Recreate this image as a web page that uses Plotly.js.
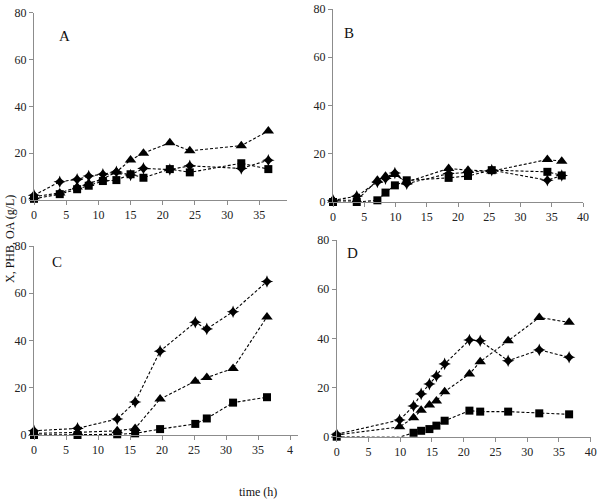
<!DOCTYPE html>
<html>
<head>
<meta charset="utf-8">
<script src="https://cdn.plot.ly/plotly-3.0.1.min.js"></script>
<style>html,body{margin:0;padding:0;background:#fff;}#chart{width:599px;height:502px;}</style>
</head>
<body>
<div id="chart"></div>
<script>
// Panel A
const A_t   = [0, 4, 6.7, 8.5, 10.7, 12.8, 15, 17, 21.1, 24.2, 32.2, 36.4];
const A_dia = [2, 7.8, 8.8, 10.2, 11, 12, 10.7, 13.5, 13, 14.6, 13.5, 17];
const A_sq  = [0.5, 2.5, 4.6, 6.1, 8.1, 8.5, 11, 9.5, 13.2, 11.8, 15.7, 13.2];
const A_tri = [1.4, 3, 5.5, 7, 9, 12, 17.1, 20, 24.5, 21, 23.2, 29.5];
// Panel B
const B_t   = [0, 3.8, 7.1, 8.4, 9.9, 11.8, 18.5, 21.6, 25.4, 34.3, 36.6];
const B_dia = [0.7, 2.4, 8.3, 9.7, 12, 7.6, 11.8, 12.2, 13.2, 9, 11];
const B_sq  = [0, 0, 0.7, 3.9, 6.9, 9, 10, 10.8, 13.2, 12.5, 11];
const B_tri = [0.7, 0.7, 9, 10.7, 11.4, 8.3, 13.9, 13.2, 12.8, 17.6, 16.9];
// Panel C
const C_t   = [0, 6.8, 13, 15.8, 19.7, 25.2, 27, 31.1, 36.4];
const C_dia = [1.8, 2.8, 6.8, 14, 35.5, 47.7, 44.9, 52.2, 65];
const C_sq  = [0, 0, 0.3, 0.7, 2.5, 4.7, 7, 13.7, 16];
const C_tri = [0.7, 1.1, 1.8, 2.8, 15.2, 22.8, 24.3, 28.2, 50];
// Panel D
const D_t   = [0, 9.9, 12.1, 13.3, 14.6, 15.7, 17, 20.9, 22.6, 27, 31.9, 36.6];
const D_dia = [1, 6.8, 12.5, 17.4, 21.4, 24.7, 29.6, 39.3, 39, 30.9, 35.3, 32.3];
const D_sq  = [0, -0.2, 1.6, 2.4, 3.1, 4.5, 6.5, 10.6, 10.2, 10.2, 9.5, 9.1];
const D_tri = [0.7, 4, 7.7, 10.8, 12.9, 14.5, 18.3, 25.5, 30.5, 39, 48.5, 46.5];

const xTickVals = [0, 5, 10, 15, 20, 25, 30, 35, 40];
const xTickTextC = ['0', '5', '10', '15', '20', '25', '30', '35', '4'];
const yTickVals = [0, 20, 40, 60, 80];

const panels = [
  {t: A_t, dia: A_dia, sq: A_sq, tri: A_tri, xa: 'x',  ya: 'y'},
  {t: B_t, dia: B_dia, sq: B_sq, tri: B_tri, xa: 'x2', ya: 'y2'},
  {t: C_t, dia: C_dia, sq: C_sq, tri: C_tri, xa: 'x3', ya: 'y3'},
  {t: D_t, dia: D_dia, sq: D_sq, tri: D_tri, xa: 'x4', ya: 'y4'}
];

const W = 599, H = 502;
const dash = '3px,2px';
const traces = [];
panels.forEach(p => {
  const common = {x: p.t, xaxis: p.xa, yaxis: p.ya, mode: 'lines+markers', cliponaxis: false,
                  showlegend: false, line: {color: '#000', width: 1.1, dash: dash}};
  traces.push(Object.assign({}, common, {y: p.dia, marker: {symbol: 'star-diamond', size: 9, color: '#000'}}));
  traces.push(Object.assign({}, common, {y: p.sq, marker: {symbol: 'square', size: 8, color: '#000'}}));
  traces.push(Object.assign({}, common, {y: p.tri, marker: {symbol: 'triangle-up', size: 10, color: '#000'}}));
});

function xax(x0px, x1px, range, ticktext, anchor) {
  const a = {domain: [x0px / W, x1px / W], range: range, anchor: anchor,
    tickvals: xTickVals, showline: true, linecolor: '#8c8c8c', linewidth: 1,
    ticks: 'outside', ticklen: 4, tickcolor: '#8c8c8c', showgrid: false, zeroline: false,
    tickfont: {family: 'Liberation Serif', size: 12, color: '#222'}};
  if (ticktext) a.ticktext = ticktext;
  return a;
}
function yax(y0px, y1px, anchor) {
  return {domain: [(H - y0px) / H, (H - y1px) / H], range: [0, 80], anchor: anchor,
    tickvals: yTickVals, showline: true, linecolor: '#8c8c8c', linewidth: 1,
    ticks: 'outside', ticklen: 4, tickcolor: '#8c8c8c', showgrid: false, zeroline: false,
    tickfont: {family: 'Liberation Serif', size: 12, color: '#222'}};
}

const letterFont = {family: 'Liberation Serif', size: 15, color: '#111'};
const layout = {
  width: W, height: H,
  margin: {l: 0, r: 0, t: 0, b: 0},
  paper_bgcolor: '#fff', plot_bgcolor: '#fff',
  xaxis:  xax(34, 287, [0, 39.3], null, 'y'),
  yaxis:  yax(200, 12.7, 'x'),
  xaxis2: xax(333, 583, [0, 40], null, 'y2'),
  yaxis2: yax(202, 9, 'x2'),
  xaxis3: xax(34, 297.7, [0, 41.2], xTickTextC, 'y3'),
  yaxis3: yax(435, 246, 'x3'),
  xaxis4: xax(336.7, 590.7, [0, 40], null, 'y4'),
  yaxis4: yax(436.7, 240, 'x4'),
  annotations: [
    {text: 'A', xref: 'paper', yref: 'paper', x: 57 / W, y: (H - 26) / H, showarrow: false, font: letterFont},
    {text: 'B', xref: 'paper', yref: 'paper', x: 349 / W, y: (H - 23) / H, showarrow: false, font: letterFont},
    {text: 'C', xref: 'paper', yref: 'paper', x: 50 / W, y: (H - 262) / H, showarrow: false, font: letterFont},
    {text: 'D', xref: 'paper', yref: 'paper', x: 352 / W, y: (H - 253) / H, showarrow: false, font: letterFont},
    {text: 'X, PHB, OA (g/L)', xref: 'paper', yref: 'paper', x: 1 / W, y: (H - 239) / H,
     xanchor: 'left', yanchor: 'middle', textangle: -90, showarrow: false,
     font: {family: 'Liberation Serif', size: 12, color: '#111'}},
    {text: 'time (h)', xref: 'paper', yref: 'paper', x: 258 / W, y: 1 / H,
     xanchor: 'center', yanchor: 'bottom', showarrow: false,
     font: {family: 'Liberation Serif', size: 12, color: '#111'}}
  ]
};

Plotly.newPlot('chart', traces, layout, {displayModeBar: false, staticPlot: true});
</script>
</body>
</html>
